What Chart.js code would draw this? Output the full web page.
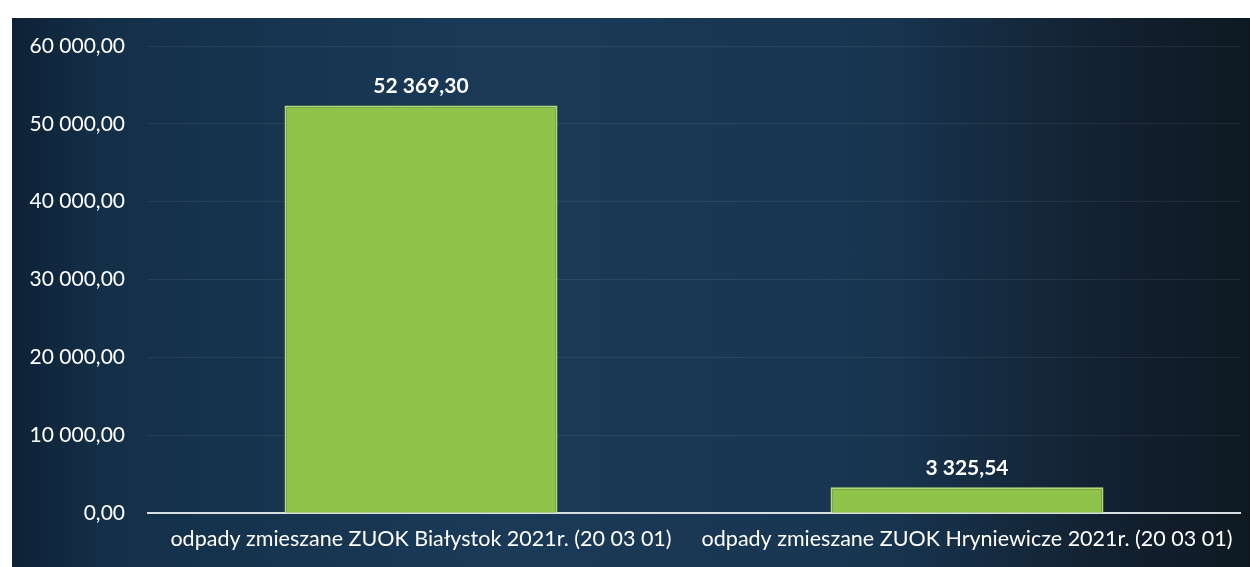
<!DOCTYPE html>
<html>
<head>
<meta charset="utf-8">
<script src="https://cdn.jsdelivr.net/npm/chart.js@4/dist/chart.umd.min.js"></script>
<style>
  html, body { margin: 0; padding: 0; background: #fff; }
  #wrap {
    position: absolute; left: 12px; top: 18px; width: 1238px; height: 549px;
    background: linear-gradient(to right, #0e2136 0%, #143049 8%, #1a3a58 40%, #183550 70%, #121f2e 90%, #0e1922 100%);
  }
</style>
</head>
<body>
<div id="wrap"><canvas id="wasteChart"></canvas></div>
<script>
    // data
    const categories = [
        'odpady zmieszane ZUOK Białystok 2021r. (20 03 01)',
        'odpady zmieszane ZUOK Hryniewicze 2021r. (20 03 01)'
    ];
    const amounts = [52369.30, 3325.54];
    const yTicks = [0, 10000, 20000, 30000, 40000, 50000, 60000];

    // 52 369,30 style
    const fmt = (v) => {
        const parts = Number(v).toFixed(2).split('.');
        const int = parts[0].replace(/\B(?=(\d{3})+(?!\d))/g, ' ');
        return int + ',' + parts[1];
    };

    const labelPlugin = {
        id: 'barValues',
        afterDatasetsDraw(chart) {
            const ctx = chart.ctx;
            const meta = chart.getDatasetMeta(0);
            ctx.save();
            ctx.fillStyle = '#ffffff';
            ctx.font = 'bold 21px Lato';
            ctx.textAlign = 'center';
            ctx.textBaseline = 'bottom';
            meta.data.forEach((bar, i) => {
                ctx.fillText(fmt(amounts[i]), bar.x, bar.y - 9);
            });
            ctx.restore();
        }
    };

    const ctx = document.getElementById('wasteChart').getContext('2d');
    new Chart(ctx, {
        type: 'bar',
        data: {
            labels: categories,
            datasets: [{
                data: amounts,
                backgroundColor: '#8fc34a',
                borderColor: '#b6da72',
                borderWidth: 2,
                barPercentage: 0.5,
                categoryPercentage: 1
            }]
        },
        options: {
            responsive: true,
            maintainAspectRatio: false,
            animation: false,
            layout: { autoPadding: false, padding: { top: 28, right: 10, bottom: 10, left: 0 } },
            plugins: { legend: { display: false }, tooltip: { enabled: false } },
            scales: {
                x: {
                    grid: { display: false },
                    border: { color: '#d8dde2', width: 2 },
                    ticks: { color: '#ffffff', font: { family: 'Lato', size: 21.5 }, padding: 5, maxRotation: 0, autoSkip: false }
                },
                y: {
                    min: 0,
                    max: 60000,
                    afterBuildTicks: (scale) => { scale.ticks = yTicks.map(v => ({ value: v })); },
                    afterFit: (scale) => { scale.width = 136; },
                    grid: { color: 'rgba(255,255,255,0.07)', drawTicks: false },
                    border: { display: false },
                    // small lineHeight so the label overhang does not push the plot down
                    ticks: { color: '#ffffff', font: { family: 'Lato', size: 21, lineHeight: 0.2 }, padding: 23, callback: (v) => fmt(v) }
                }
            }
        },
        plugins: [labelPlugin]
    });
</script>
</body>
</html>
